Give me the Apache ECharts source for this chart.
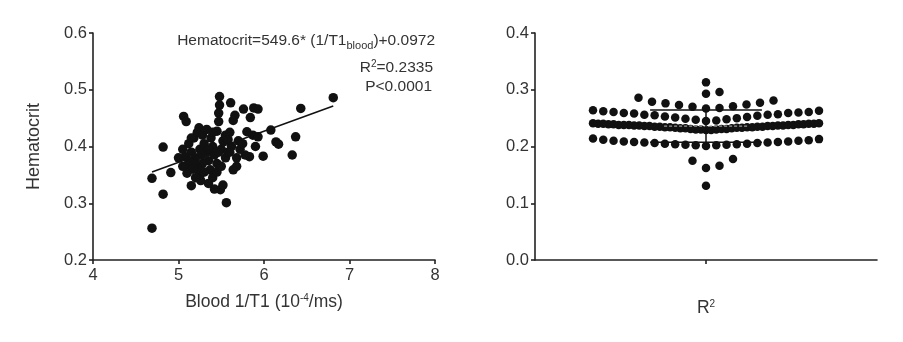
<!DOCTYPE html>
<html>
<head>
<meta charset="utf-8">
<script src="https://cdn.jsdelivr.net/npm/echarts@6/dist/echarts.min.js"></script>
<style>
html, body {margin: 0; padding: 0; background: #fff;}
#chart {width: 903px; height: 342px;}
</style>
</head>
<body>
<div id="chart"></div>
<script>
// left panel: blood 1/T1 (10^-4/ms) against hematocrit
const bloodT1 = [
  4.69, 4.82, 4.69, 4.91, 4.82, 5.06, 5.09, 5.48, 5.48, 5.47,
  5.47, 5.61, 5.76, 5.88, 5.93, 6.43, 6.81, 5.84, 5.66, 5.64,
  6.08, 6.37, 6.14, 6.17, 6.33, 5.99, 5.83, 5.90, 5.45, 5.56,
  5.49, 5.52, 5.15, 5.26, 5.10, 5.13, 5.08, 5.64, 5.68, 5.78,
  5.37, 5.25, 5.24, 5.05, 5.12, 5.18, 5.22, 5.28, 5.15, 5.20,
  5.25, 5.30, 5.33, 5.35, 5.40, 5.42, 5.45, 5.50, 5.52, 5.55,
  5.58, 5.28, 5.22, 5.18, 5.12, 5.30, 5.40, 5.45, 5.50, 5.33,
  5.38, 5.55, 5.60, 5.58, 5.62, 5.87, 5.93, 5.80, 5.70, 5.72,
  5.68, 5.20, 5.35, 5.42, 5.05, 5.15, 5.35, 5.27, 5.47, 5.40,
  5.60, 5.75, 5.17, 5.00
]
const hematocrit = [
  0.256, 0.316, 0.344, 0.354, 0.399, 0.453, 0.444, 0.488, 0.473, 0.459,
  0.444, 0.477, 0.466, 0.468, 0.466, 0.467, 0.486, 0.451, 0.455, 0.446,
  0.429, 0.417, 0.408, 0.404, 0.385, 0.383, 0.382, 0.400, 0.427, 0.301,
  0.324, 0.332, 0.331, 0.340, 0.353, 0.365, 0.382, 0.359, 0.365, 0.385,
  0.359, 0.350, 0.433, 0.395, 0.405, 0.415, 0.425, 0.420, 0.390, 0.380,
  0.395, 0.405, 0.390, 0.375, 0.400, 0.385, 0.370, 0.395, 0.410, 0.380,
  0.390, 0.370, 0.360, 0.370, 0.375, 0.355, 0.345, 0.355, 0.365, 0.430,
  0.415, 0.420, 0.425, 0.412, 0.400, 0.420, 0.417, 0.426, 0.410, 0.395,
  0.380, 0.345, 0.335, 0.325, 0.365, 0.415, 0.395, 0.385, 0.390, 0.425,
  0.390, 0.405, 0.360, 0.380
]
const fitSlope = 0.05496   // 549.6 * 1e-4
const fitIntercept = 0.0972
const t1Range = [4, 8]
const hctRange = [0.2, 0.6]

// right panel: R2 values (one dot each)
const r2High = [0.313, 0.296, 0.293]
const r2RowB = [0.267, 0.268, 0.270, 0.271, 0.273, 0.274, 0.276, 0.277, 0.279, 0.281, 0.286]
const r2RowC = [
  0.245, 0.246, 0.247, 0.248, 0.249, 0.250, 0.251, 0.252, 0.253, 0.254, 0.255, 0.256,
  0.256, 0.257, 0.258, 0.259, 0.259, 0.260, 0.261, 0.261, 0.262, 0.263, 0.264
]
const r2Band = [
  0.229, 0.229, 0.230, 0.230, 0.230, 0.231, 0.231, 0.231, 0.232, 0.232, 0.232,
  0.233, 0.233, 0.233, 0.234, 0.234, 0.234, 0.234, 0.235, 0.235, 0.235, 0.235,
  0.236, 0.236, 0.236, 0.236, 0.237, 0.237, 0.237, 0.237, 0.238, 0.238, 0.238,
  0.238, 0.238, 0.239, 0.239, 0.239, 0.239, 0.240, 0.240, 0.240, 0.240, 0.241, 0.241
]
const r2Bottom = [
  0.201, 0.202, 0.202, 0.203, 0.203, 0.204, 0.204, 0.205, 0.205, 0.206, 0.206, 0.207,
  0.207, 0.208, 0.208, 0.209, 0.209, 0.210, 0.210, 0.211, 0.212, 0.213, 0.214
]
const r2Low = [0.178, 0.175, 0.166, 0.162, 0.131]
const r2Values = [].concat(r2High, r2RowB, r2RowC, r2Band, r2Bottom, r2Low)
const r2Range = [0, 0.4]

const W = 903, H = 342
const gridL = {left: 93, right: W - 435, top: 33, bottom: H - 260}
const gridR = {left: 535, right: W - 877, top: 33, bottom: H - 260}
const font = '"Liberation Sans", Arial, sans-serif'
const ink = '#222'
const textColor = '#333'

// prism-like column scatter: values binned in rows, lowest value in the middle
const binH = 0.0215, binOrigin = 0.2005
const rowMaxPx = 226, dotGapPx = 13.5
const swarmLayout = function (values) {
  const half = (W - gridR.left - gridR.right) / 2
  const bins = {}
  values.forEach(v => {
    const k = Math.floor((v - binOrigin) / binH)
    if (!bins[k]) bins[k] = []
    bins[k].push(v)
  })
  const out = []
  Object.keys(bins).forEach(k => {
    const list = bins[k].slice().sort((a, b) => a - b)
    const n = list.length
    const gap = n > 1 ? Math.min(dotGapPx, rowMaxPx / (n - 1)) : 0
    list.forEach((v, i) => {
      const step = Math.ceil(i / 2), side = i % 2 ? 1 : -1
      out.push([side * step * gap / half, v])
    })
  })
  return out
}

const swarm = swarmLayout(r2Values)
const mean = r2Values.reduce((s, v) => s + v, 0) / r2Values.length
const sd = Math.sqrt(r2Values.reduce((s, v) => s + (v - mean) * (v - mean), 0) / (r2Values.length - 1))

const t1Min = Math.min(...bloodT1), t1Max = Math.max(...bloodT1)
const fitLine = [t1Min, t1Max].map(x => [x, fitSlope * x + fitIntercept])

const axisLineStyle = {onZero: false, lineStyle: {color: ink, width: 1.6}}
const axisTickStyle = {show: true, length: 4, lineStyle: {color: ink, width: 1.6}}
const labelStyle = {color: textColor, fontSize: 16.5, fontFamily: font}
const supStyle = {fontSize: 10, fontFamily: font, color: textColor, verticalAlign: 'top', padding: [0, 0, 9, 0]}

const chart = echarts.init(document.getElementById('chart'), null, {renderer: 'canvas'})
chart.setOption({
  animation: false,
  backgroundColor: '#fff',
  grid: [
    Object.assign({containLabel: false}, gridL),
    Object.assign({containLabel: false}, gridR),
  ],
  xAxis: [
    {
      type: 'value', gridIndex: 0,
      min: t1Range[0], max: t1Range[1], interval: 1,
      axisLine: axisLineStyle, axisTick: axisTickStyle,
      axisLabel: Object.assign({margin: 7}, labelStyle),
      splitLine: {show: false},
      name: 'Blood 1/T1 (10{sup|-4}/ms)',
      nameLocation: 'middle', nameGap: 33,
      nameTextStyle: {color: textColor, fontSize: 17.5, fontFamily: font, rich: {sup: supStyle}},
    },
    {
      type: 'value', gridIndex: 1,
      min: -1, max: 1, interval: 1,
      axisLine: axisLineStyle,
      axisTick: Object.assign({customValues: [0]}, axisTickStyle),
      axisLabel: {show: false},
      splitLine: {show: false},
      name: 'R{sup|2}',
      nameLocation: 'middle', nameGap: 39,
      nameTextStyle: {color: textColor, fontSize: 17.5, fontFamily: font, rich: {sup: supStyle}},
    },
  ],
  yAxis: [
    {
      type: 'value', gridIndex: 0,
      min: hctRange[0], max: hctRange[1], interval: 0.1,
      axisLine: Object.assign({show: true}, axisLineStyle),
      axisTick: axisTickStyle,
      axisLabel: Object.assign({margin: 6, formatter: v => v.toFixed(1)}, labelStyle),
      splitLine: {show: false},
      name: 'Hematocrit',
      nameLocation: 'middle', nameGap: 50, nameRotate: 90,
      nameTextStyle: {color: textColor, fontSize: 18, fontFamily: font},
    },
    {
      type: 'value', gridIndex: 1,
      min: r2Range[0], max: r2Range[1], interval: 0.1,
      axisLine: Object.assign({show: true}, axisLineStyle),
      axisTick: axisTickStyle,
      axisLabel: Object.assign({margin: 6, formatter: v => v.toFixed(1)}, labelStyle),
      splitLine: {show: false},
    },
  ],
  graphic: [
    {
      type: 'text', right: W - 435, top: 33,
      style: {
        text: 'Hematocrit=549.6* (1/T1{sub|blood})+0.0972',
        fill: textColor, font: '15.5px ' + font,
        rich: {sub: {fontSize: 11, fontFamily: font, fill: textColor, verticalAlign: 'bottom', padding: [9, 0, 0, 0]}},
      },
    },
    {
      type: 'text', right: W - 433, top: 59,
      style: {
        text: 'R{sup|2}=0.2335',
        fill: textColor, font: '15.5px ' + font,
        rich: {sup: {fontSize: 10, fontFamily: font, fill: textColor, verticalAlign: 'top', padding: [0, 0, 8, 0]}},
      },
    },
    {
      type: 'text', right: W - 432, top: 79,
      style: {text: 'P<0.0001', fill: textColor, font: '15.5px ' + font},
    },
  ],
  series: [
    {
      type: 'scatter', xAxisIndex: 0, yAxisIndex: 0,
      symbolSize: 9.5,
      itemStyle: {color: '#111', opacity: 1},
      data: bloodT1.map((x, i) => [x, hematocrit[i]]),
      z: 2,
    },
    {
      type: 'line', xAxisIndex: 0, yAxisIndex: 0,
      data: fitLine, symbol: 'none',
      lineStyle: {color: '#111', width: 1.5},
      z: 3,
    },
    {
      type: 'scatter', xAxisIndex: 1, yAxisIndex: 1,
      symbolSize: 8.5,
      itemStyle: {color: '#111', opacity: 1},
      data: swarm,
      z: 2,
    },
    // mean (only visible as a faint line inside the dense band)
    {
      type: 'line', xAxisIndex: 1, yAxisIndex: 1, symbol: 'none', z: 3,
      lineStyle: {color: '#bbb', width: 1, type: [3, 2]},
      data: [[-0.245, mean], [0.245, mean]],
    },
    // sd whisker and caps
    {
      type: 'line', xAxisIndex: 1, yAxisIndex: 1, symbol: 'none', z: 3,
      lineStyle: {color: '#111', width: 1.5},
      data: [[0, mean - sd], [0, mean + sd]],
    },
    {
      type: 'line', xAxisIndex: 1, yAxisIndex: 1, symbol: 'none', z: 3,
      lineStyle: {color: '#111', width: 1.5},
      data: [[-0.327, mean + sd], [0.327, mean + sd]],
    },
    {
      type: 'line', xAxisIndex: 1, yAxisIndex: 1, symbol: 'none', z: 3,
      lineStyle: {color: '#111', width: 1.5},
      data: [[-0.327, mean - sd], [0.327, mean - sd]],
    },
  ],
})
</script>
</body>
</html>
